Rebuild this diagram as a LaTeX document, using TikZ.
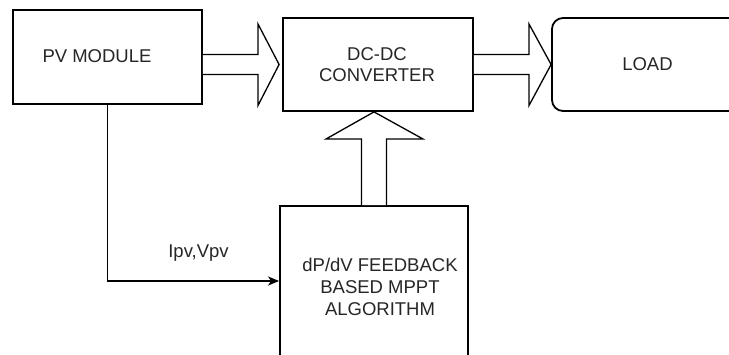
\documentclass[tikz,border=0pt]{standalone}
\usepackage{fontspec}
\setmainfont{Liberation Sans}
\usetikzlibrary{arrows.meta,calc}
\begin{document}
\begin{tikzpicture}[x=1pt,y=-1pt,
  blockbox/.style={draw=black,line width=1.8pt,rectangle,inner sep=0pt},
  txt/.style={font=\fontsize{18.5}{21.7}\selectfont,align=center,inner sep=0pt,text=black!85},
  blockarrow/.style={draw=black,line width=1.3pt,fill=white,line join=miter},
  sig/.style={draw=black,line width=1.8pt,-{Stealth[length=11pt,width=9pt,inset=3pt]}}]
\useasboundingbox (0,0) rectangle (729,354);
\fill[white] (0,0) rectangle (729,354);
% boxes
\node[blockbox,minimum width=189pt,minimum height=94pt] (pv) at (107.5,57) {};
\node[blockbox,minimum width=190pt,minimum height=93pt] (dc) at (378,64.5) {};
\node[blockbox,rounded corners=11pt,minimum width=190pt,minimum height=93pt] (load) at (647,64.5) {};
\node[blockbox,minimum width=188pt,minimum height=162pt] (alg) at (374,287) {};
% texts
\node[txt] (pvt) at (97,56) {PV MODULE};
\node[txt] (dct) at (377,64.5) {DC-DC\\CONVERTER};
\node[txt] (loadt) at (647.5,64) {LOAD};
\node[txt] (algt) at (380,287) {dP/dV FEEDBACK\\BASED MPPT\\ALGORITHM};
\node[txt] (lbl) at (198.5,253) {Ipv,Vpv};
% block arrow PV -> DC
\coordinate (a1s) at (pv.east |- dc.west);
\coordinate (a1t) at ($(dc.west)+(-3,0)$);
\draw[blockarrow] ($(a1s)+(0,-10)$) -- (258,54.5) -- (258,24) -- (a1t) -- (258,105.5) -- (258,74.5) -- ($(a1s)+(0,10)$);
% block arrow DC -> LOAD
\draw[blockarrow] ($(dc.east)+(0,-10)$) -- (529,54.5) -- (529,24) -- (load.west) -- (529,105.5) -- (529,74.5) -- ($(dc.east)+(0,10)$);
% block arrow ALG -> DC
\coordinate (a3t) at (alg.north |- dc.south);
\draw[blockarrow] ($(alg.north)+(-12.5,0)$) -- (361.5,139) -- (326,139) -- (a3t) -- (423,139) -- (386.5,139) -- ($(alg.north)+(12.5,0)$);
% feedback signal
\draw[sig] (pv.south) |- ($(alg.west)+(0,-6)$);
\end{tikzpicture}
\end{document}
